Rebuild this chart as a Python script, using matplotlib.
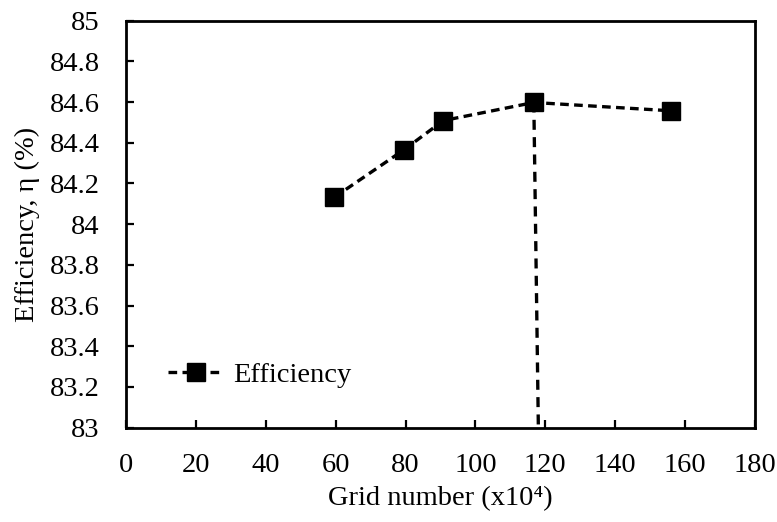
import matplotlib.pyplot as plt

# Grid independence data
grid_number = [59.6, 79.5, 90.8, 116.7, 156.1]
efficiency = [84.132, 84.365, 84.509, 84.598, 84.557]

# dashed drop line marking the chosen grid
marker_x = [116.7, 118.0]
marker_y = [84.598, 83.0]

x_ticks = [0, 20, 40, 60, 80, 100, 120, 140, 160, 180]
y_ticks = [83, 83.2, 83.4, 83.6, 83.8, 84, 84.2, 84.4, 84.6, 84.8, 85]
y_labels = ["83", "83.2", "83.4", "83.6", "83.8", "84", "84.2", "84.4", "84.6", "84.8", "85"]

plt.rcParams['font.family'] = ['Liberation Serif', 'DejaVu Serif']

fig = plt.figure(figsize=(7.77, 5.22), dpi=100)
ax = fig.add_axes([0.1622, 0.1807, 0.8095, 0.7797])

ax.plot(grid_number, efficiency, color='black', linestyle='--', linewidth=2.4,
        dashes=(2.6, 1.6), marker='s', markersize=12.5, label="Efficiency", zorder=5)
ax.plot(marker_x, marker_y, color='black', linestyle='--', linewidth=2.4,
        dashes=(3, 2.2), zorder=4)

ax.set_xlim(0, 180)
ax.set_ylim(83, 85)
ax.set_xticks(x_ticks)
ax.set_yticks(y_ticks)
ax.set_yticklabels(y_labels)
ax.tick_params(direction='in', length=6, width=1.6, labelsize=20.5)
ax.tick_params(axis='x', pad=18)
ax.tick_params(axis='y', pad=19)
for s in ax.spines.values():
    s.set_linewidth(2)

ax.set_xlabel("Grid number (x10\u2074)", fontsize=20.5, labelpad=6)
ax.set_ylabel("Efficiency, \u03b7 (%)", fontsize=20.5, labelpad=7)

ax.legend(loc='center left', bbox_to_anchor=(0.066, 0.13), frameon=False,
          borderpad=0, borderaxespad=0, fontsize=20.5, handlelength=2.0,
          handletextpad=0.3)

fig.savefig("out.png", dpi=100)
